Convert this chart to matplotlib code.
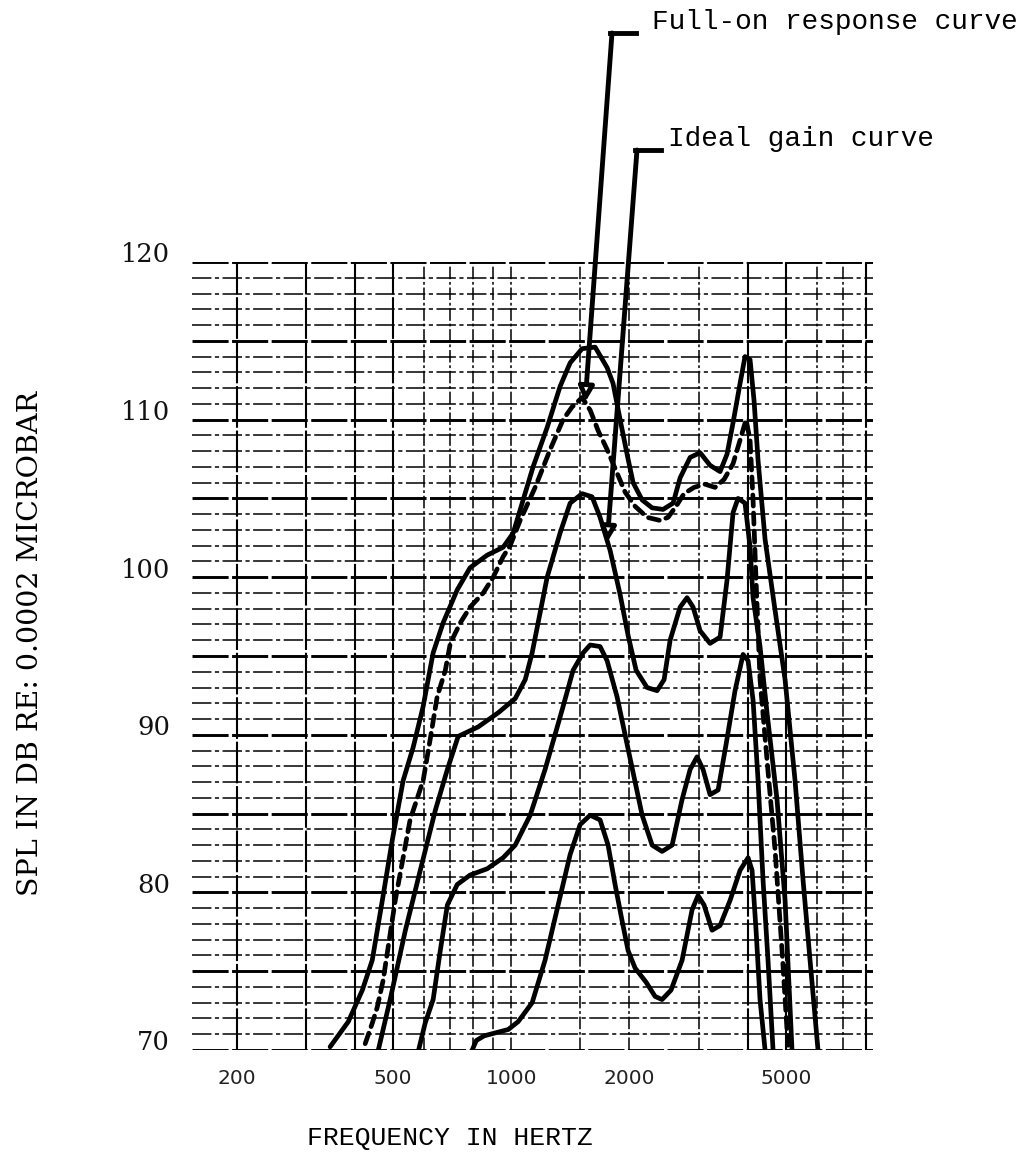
import numpy as np
import matplotlib
matplotlib.use("Agg")
import matplotlib.pyplot as plt
from matplotlib.ticker import NullLocator

plt.rcParams['lines.scale_dashes'] = False

# ---------------- data (frequency in Hz, SPL in dB) ----------------
full_on_f = [346, 385, 418, 443, 470, 498, 531, 563, 597, 633, 671, 729, 786, 869, 954, 1012,
             1137, 1235, 1332, 1413, 1516, 1636, 1755, 1817, 1894, 1973, 2044, 2155, 2285, 2436,
             2584, 2692, 2855, 3027, 3209, 3403, 3544, 3672, 3826, 3939, 4057, 4153, 4252, 4430,
             4697, 4981, 5281, 5534, 5766, 6042]
full_on_db = [70.2, 71.8, 73.8, 75.7, 79.5, 83.3, 87.1, 89.2, 91.8, 95.2, 97.1, 99.2, 100.6, 101.4,
              101.9, 102.8, 107.0, 109.5, 112.1, 113.6, 114.5, 114.6, 113.3, 112.3, 110.0, 107.8,
              106.0, 104.9, 104.4, 104.3, 104.7, 106.3, 107.6, 107.9, 107.1, 106.7, 107.8, 109.8,
              112.3, 114.0, 113.8, 111.2, 107.4, 102.4, 97.9, 93.5, 87.1, 80.8, 75.7, 70.0]

ideal_f = [425, 443, 456, 472, 507, 553, 597, 622, 648, 680, 700, 742, 786, 849, 900, 954, 994,
           1054, 1151, 1257, 1356, 1429, 1516, 1589, 1665, 1755, 1861, 1950, 2068, 2218, 2394,
           2509, 2629, 2755, 2922, 3116, 3304, 3483, 3672, 3826, 3963, 4057, 4129, 4202, 4301,
           4481, 4697, 4894, 5067]
ideal_db = [70.4, 71.7, 72.7, 74.4, 79.5, 84.6, 87.1, 89.7, 92.4, 94.1, 95.8, 97.1, 98.1, 99.0,
            100.0, 101.3, 102.0, 103.6, 105.7, 108.1, 110.0, 110.8, 111.4, 110.6, 109.3, 108.1,
            106.6, 105.4, 104.5, 103.8, 103.6, 103.8, 104.5, 105.3, 105.7, 105.9, 105.7, 106.2,
            107.2, 108.7, 110.0, 108.7, 104.9, 99.8, 93.5, 88.4, 82.7, 76.3, 70.3]

curve_b_f = [459, 492, 538, 587, 641, 688, 733, 824, 927, 1024, 1086, 1131, 1235, 1332, 1413, 1516,
             1607, 1684, 1786, 1894, 1985, 2080, 2218, 2352, 2451, 2539, 2692, 2804, 2905, 3027,
             3209, 3403, 3544, 3672, 3781, 3939, 4057, 4129, 4301, 4481, 4751, 4981, 5188]
curve_b_db = [70.0, 73.2, 77.6, 81.4, 85.2, 87.8, 89.9, 90.5, 91.4, 92.3, 93.5, 95.2, 100.0, 102.8,
              104.7, 105.3, 105.1, 103.8, 101.7, 98.9, 96.3, 94.1, 93.0, 92.8, 93.5, 96.0, 98.1,
              98.7, 98.1, 96.6, 95.8, 96.2, 99.8, 104.1, 105.0, 104.7, 101.9, 98.7, 95.6, 91.4,
              85.9, 79.5, 70.0]

curve_c_f = [580, 604, 633, 660, 688, 729, 786, 869, 954, 1024, 1118, 1220, 1356, 1438, 1525, 1589,
             1684, 1755, 1861, 1950, 2044, 2155, 2285, 2422, 2569, 2724, 2855, 2973, 3080, 3209,
             3364, 3525, 3715, 3894, 4010, 4129, 4252, 4377, 4507, 4642]
curve_c_db = [69.9, 71.7, 73.2, 76.3, 79.2, 80.5, 81.1, 81.5, 82.2, 83.0, 84.9, 87.8, 91.8, 94.1,
              95.2, 95.7, 95.6, 94.7, 92.4, 90.0, 87.6, 84.9, 83.0, 82.6, 83.0, 85.9, 87.8, 88.6,
              87.8, 86.2, 86.5, 89.4, 92.8, 95.1, 94.7, 92.2, 87.1, 80.8, 75.7, 70.0]

curve_d_f = [796, 815, 854, 916, 983, 1042, 1131, 1220, 1317, 1413, 1498, 1589, 1684, 1765, 1839,
             1916, 1985, 2068, 2206, 2325, 2422, 2553, 2724, 2888, 2991, 3098, 3247, 3403, 3609,
             3826, 4010, 4105, 4202, 4301, 4430]
curve_d_db = [70.0, 70.6, 70.9, 71.1, 71.3, 71.8, 73.0, 75.7, 79.2, 82.4, 84.3, 84.9, 84.6, 83.0,
              80.5, 78.2, 76.3, 75.2, 74.3, 73.4, 73.2, 73.8, 75.7, 78.9, 79.8, 79.2, 77.6, 77.9,
              79.5, 81.4, 82.2, 81.4, 77.6, 73.2, 70.0]

x_tick_values = [200, 500, 1000, 2000, 5000]
x_tick_labels = ["200", "500", "1000", "2000", "5000"]
y_tick_values = [70, 80, 90, 100, 110, 120]
x_grid_strong = [200, 300, 400, 500, 4000, 5000, 8000]
x_grid_light = [600, 700, 800, 900, 1000, 1500, 2000, 3000, 6000, 7000]
y_grid_values = list(range(70, 121))

full_on_tip = (1543, 111.1)
ideal_tip = (1755, 102.2)

# ---------------- figure ----------------
W, H = 1026, 1159
fig = plt.figure(figsize=(W / 100, H / 100), dpi=100)
fig.patch.set_facecolor('white')
ax = fig.add_axes([192 / W, 1 - 1050 / H, (873 - 192) / W, (1050 - 262) / H])
ax.set_xscale('log')
ax.set_xlim(154, 8340)
ax.set_ylim(70, 120)
for s in ax.spines.values():
    s.set_visible(False)
for a in (ax.xaxis, ax.yaxis):
    a.set_major_locator(NullLocator())
    a.set_minor_locator(NullLocator())

# grid
for v in y_grid_values:
    if v % 5 == 0:
        ax.axhline(v, color='black', lw=2.1, dashes=(26, 2.5), zorder=1)
    else:
        ax.axhline(v, color='black', lw=1.1, dashes=(14, 2.5, 3, 2.5), zorder=1)
for v in x_grid_strong:
    ax.axvline(v, color='black', lw=1.5, dashes=(30, 2), zorder=1)
for v in x_grid_light:
    ax.axvline(v, color='black', lw=1.1, dashes=(9, 2, 2, 2), zorder=1)

# curves
kw = dict(color='black', lw=3.4, solid_joinstyle='round', solid_capstyle='round', zorder=3)
ax.plot(full_on_f, full_on_db, **kw)
ax.plot(curve_b_f, curve_b_db, **kw)
ax.plot(curve_c_f, curve_c_db, **kw)
ax.plot(curve_d_f, curve_d_db, **kw)
ax.plot(ideal_f, ideal_db, color='black', lw=3.4, dashes=(8, 5), dash_capstyle='round', zorder=3)

# tick labels
ytr = ax.get_yaxis_transform()
for v in y_tick_values:
    ax.text(-0.032, v + 0.45, str(v), transform=ytr, ha='right', va='center',
            fontsize=18.5, family='DejaVu Serif', color='#111111')
xtr = ax.get_xaxis_transform()
for v, lab in zip(x_tick_values, x_tick_labels):
    ax.text(v, -0.036, lab, transform=xtr, ha='center', va='center',
            fontsize=14.5, family='DejaVu Sans', color='#222222')

fig.text(31 / W, 1 - 643 / H, "SPL IN DB RE: 0.0002 MICROBAR", rotation=90,
         ha='center', va='center', fontsize=20.5, family='DejaVu Serif')
fig.text(450 / W, 1 - 1138 / H, "FREQUENCY IN HERTZ", ha='center', va='center',
         fontsize=19, family='Liberation Mono')

# annotations
arrow_kw = dict(arrowstyle='-|>', lw=3.5, color='black', fc='white', ec='black',
                mutation_scale=22, shrinkA=0, shrinkB=0)
ax.annotate("", xy=full_on_tip, xycoords='data', xytext=(612, H - 33),
            textcoords='figure pixels', arrowprops=arrow_kw, zorder=5)
ax.annotate("", xy=ideal_tip, xycoords='data', xytext=(637, H - 150),
            textcoords='figure pixels', arrowprops=arrow_kw, zorder=5)
fig.lines.append(plt.Line2D([610 / W, 636 / W], [1 - 33 / H, 1 - 33 / H], color='black',
                            lw=3.5, transform=fig.transFigure))
fig.lines.append(plt.Line2D([635 / W, 661 / W], [1 - 150 / H, 1 - 150 / H], color='black',
                            lw=3.5, transform=fig.transFigure))
fig.text(652 / W, 1 - 22 / H, "Full-on response curve", ha='left', va='center',
         fontsize=20, family='Liberation Mono')
fig.text(668 / W, 1 - 139 / H, "Ideal gain curve", ha='left', va='center',
         fontsize=20, family='Liberation Mono')

fig.savefig("out.png", dpi=100)
